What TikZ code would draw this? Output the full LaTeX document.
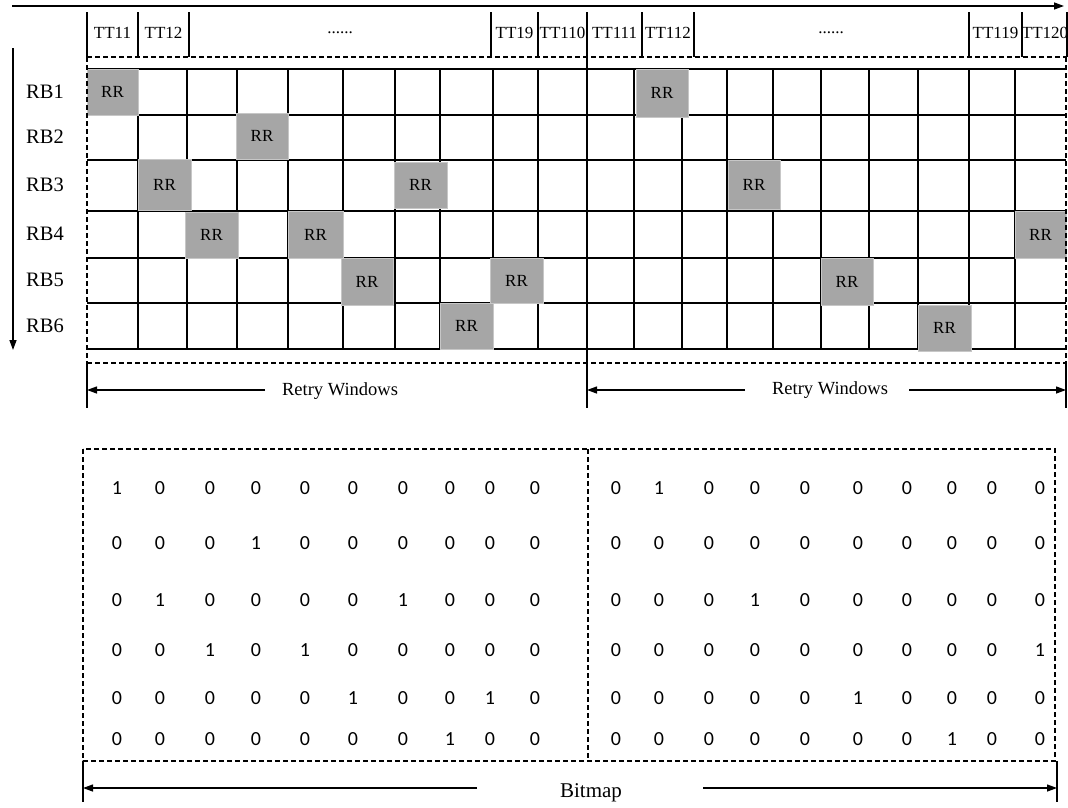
\documentclass[tikz,border=0pt]{standalone}
\usepackage{fontspec}
\setmainfont{Liberation Serif}
\newfontfamily\bitfont{Carlito}
\usetikzlibrary{arrows.meta}
\newcommand\rrb[5]{\node[rrbox,minimum width=#4pt,minimum height=#5pt] (#1) at (#2,#3) {RR};}
\begin{document}
\begin{tikzpicture}[x=1pt,y=-1pt,
  gridline/.style={line width=1.4pt},
  border/.style={line width=2.6pt, dash pattern=on 5pt off 3pt},
  thinline/.style={line width=1.3pt},
  arr/.style={line width=1.3pt, -{Triangle[length=10pt,width=7pt]}},
  rrbox/.style={draw=black!22, fill=black!35, line width=1pt, inner sep=0pt, font=\fontsize{17}{17}\selectfont},
  ttlab/.style={font=\fontsize{17}{17}\selectfont, inner sep=0pt},
  rblab/.style={font=\fontsize{20.5}{20.5}\selectfont, inner sep=0pt},
  caplab/.style={font=\fontsize{18.5}{18.5}\selectfont, inner sep=0pt},
  bit/.style={font=\bitfont\fontsize{20}{20}\selectfont, inner sep=0pt}
]
\useasboundingbox (0,0) rectangle (1068,807);
% top axis arrow
\coordinate (ta) at (12,6);
\coordinate (tb) at (1064,6);
\draw[arr] (ta) -- (tb);
% left axis arrow
\coordinate (la) at (13,48);
\coordinate (lb) at (13,350);
\draw[arr] (la) -- (lb);
% header ticks
\foreach \x in {87,138,189,491,538,587,642,694,969,1022,1067}
  \draw[thinline] (\x,12) -- (\x,57);
\node[ttlab] (t1) at (112.5,33) {TT11};
\node[ttlab] (t2) at (163.5,33) {TT12};
\node[ttlab] (d1) at (340,33) {......};
\node[ttlab] (t9) at (514.5,33) {TT19};
\node[ttlab] (t10) at (562.5,33) {TT110};
\node[ttlab] (t11) at (614.5,33) {TT111};
\node[ttlab] (t12) at (668,33) {TT112};
\node[ttlab] (d2) at (831,33) {......};
\node[ttlab] (t19) at (995.5,33) {TT119};
\node[ttlab] (t20) at (1045,33) {TT120};
% grid
\foreach \y in {69,115,160,211,258,303,349}
  \draw[gridline] (87,\y) -- (1066,\y);
\foreach \x in {138,187,237,288,343,395,440,493,538,634,682,727,773,821,869,918,969,1015}
  \draw[gridline] (\x,69) -- (\x,349);
% RR boxes
\rrb{b1}{112.5}{92}{51}{46}
\rrb{b2}{662}{93}{52}{48}
\rrb{b3}{262}{136}{52}{46}
\rrb{b4}{164.5}{185}{53}{51}
\rrb{b5}{420.5}{185}{53}{46}
\rrb{b6}{754}{184.5}{52}{49}
\rrb{b7}{211.5}{235}{53}{46}
\rrb{b8}{315.5}{234.5}{55}{47}
\rrb{b9}{1040.5}{234.5}{51}{47}
\rrb{b10}{367}{281.5}{52}{47}
\rrb{b11}{516.5}{280.5}{53}{45}
\rrb{b12}{847}{281.5}{52}{47}
\rrb{b13}{466.5}{326}{53}{46}
\rrb{b14}{944.5}{328}{53}{46}
% borders
\draw[border] (87,57) -- (1066,57);
\draw[border] (87,363) -- (1066,363);
\draw[border] (87,57) -- (87,363);
\draw[border] (1066,57) -- (1066,363);
\draw[line width=2.8pt] (587,57) -- (587,363);
% row labels
\foreach \i/\y in {1/92,2/137,3/185,4/234,5/280,6/326}
  \node[rblab] (rb\i) at (45,\y) {RB\i};
% retry windows
\foreach \x in {87,587,1066}
  \draw[thinline] (\x,363) -- (\x,408);
\coordinate (r1a) at (265,390);
\coordinate (r1b) at (87,390);
\draw[arr] (r1a) -- (r1b);
\node[caplab] (rw1) at (340,391) {Retry Windows};
\coordinate (r2a) at (745,390);
\coordinate (r2b) at (587,390);
\draw[arr] (r2a) -- (r2b);
\node[caplab] (rw2) at (830,390) {Retry Windows};
\coordinate (r3a) at (909,390);
\coordinate (r3b) at (1066,390);
\draw[arr] (r3a) -- (r3b);
% bitmap box
\draw[border] (83,449) rectangle (1055,761);
\draw[border] (588,449) -- (588,761);
\draw[thinline] (83,761) -- (83,802);
\draw[thinline] (1057,761) -- (1057,802);
\coordinate (m1a) at (477,788);
\coordinate (m1b) at (83,788);
\draw[arr] (m1a) -- (m1b);
\coordinate (m2a) at (703,788);
\coordinate (m2b) at (1057,788);
\draw[arr] (m2a) -- (m2b);
\node[caplab,font=\fontsize{21}{21}\selectfont] (bm) at (591,793) {Bitmap};
% bits
\foreach \r/\y/\bl/\br in {
  1/488/{1,0,0,0,0,0,0,0,0,0}/{0,1,0,0,0,0,0,0,0,0},
  2/543/{0,0,0,1,0,0,0,0,0,0}/{0,0,0,0,0,0,0,0,0,0},
  3/600/{0,1,0,0,0,0,1,0,0,0}/{0,0,0,1,0,0,0,0,0,0},
  4/650/{0,0,1,0,1,0,0,0,0,0}/{0,0,0,0,0,0,0,0,0,1},
  5/698/{0,0,0,0,0,1,0,0,1,0}/{0,0,0,0,0,1,0,0,0,0},
  6/739/{0,0,0,0,0,0,0,1,0,0}/{0,0,0,0,0,0,0,1,0,0}}{
  \foreach \v [count=\c] in \bl {
    \pgfmathsetmacro\xx{{117,160,210,256,305,353,403,450,490,535}[\c-1]}
    \node[bit] (L\r-\c) at (\xx,\y) {\v};
  }
  \foreach \v [count=\c] in \br {
    \pgfmathsetmacro\xx{{616,659,709,755,805,858,907,952,992,1040}[\c-1]}
    \node[bit] (R\r-\c) at (\xx,\y) {\v};
  }
}
\end{tikzpicture}
\end{document}
